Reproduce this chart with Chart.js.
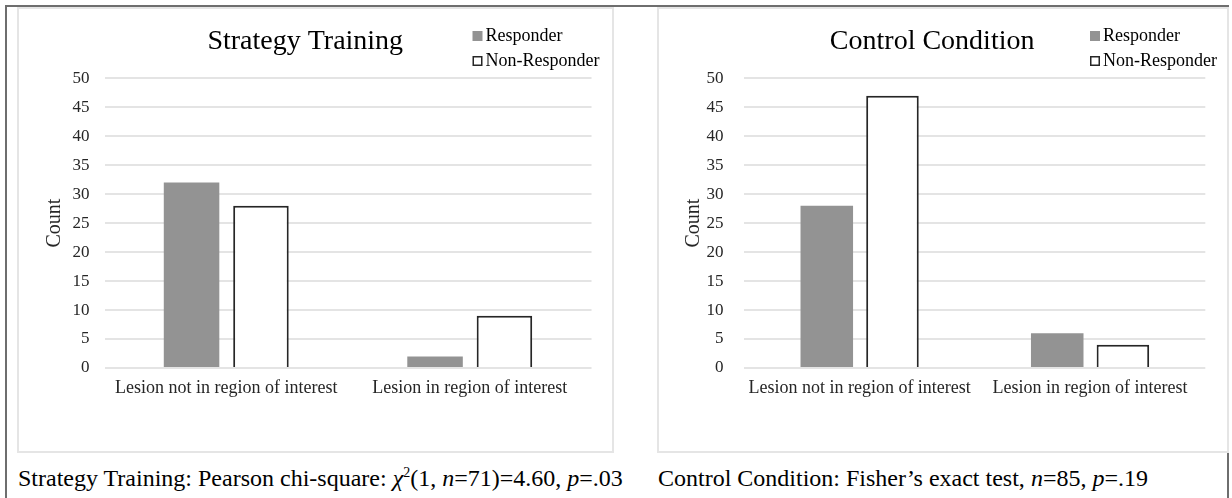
<!DOCTYPE html>
<html>
<head>
<meta charset="utf-8">
<script src="https://cdn.jsdelivr.net/npm/chart.js@4"></script>
<style>
  body { margin: 0; background: #fff; width: 1232px; height: 498px; overflow: hidden; position: relative; font-family: "Liberation Serif", "Times New Roman", serif; }
  .frame { position: absolute; left: 5px; top: 5px; width: 1224px; height: 520px; box-sizing: border-box; border: 2px solid #6e6e6e; border-bottom: none; }
  .panel { position: absolute; box-sizing: border-box; border: 2px solid #e5e5e5; }
  .box { position: absolute; }
  .caption { position: absolute; top: 466px; font-size: 24px; line-height: 1; color: #000; white-space: nowrap; }
</style>
</head>
<body>
<div class="frame"></div>
<div class="panel" style="left:17px; top:7px; width:597px; height:446px;"></div>
<div class="panel" style="left:657px; top:7px; width:572px; height:446px;"></div>
<div class="box" style="left:19px; top:9px; width:593px; height:442px;"><canvas id="strategyChart"></canvas></div>
<div class="box" style="left:659px; top:9px; width:566px; height:442px;"><canvas id="controlChart"></canvas></div>
<div class="caption" style="left:18px;">Strategy Training: Pearson chi-square: <i>χ</i><sup style="font-size:14px; vertical-align:9px; line-height:0;">2</sup>(1, <i>n</i>=71)=4.60, <i>p</i>=.03</div>
<div class="caption" style="left:658px;">Control Condition: Fisher’s exact test, <i>n</i>=85, <i>p</i>=.19</div>
<script>
'use strict';
// data
let categories = ['Lesion not in region of interest', 'Lesion in region of interest'];
let seriesNames = ['Responder', 'Non-Responder'];
let strategyResponder = [32, 2];
let strategyNonResponder = [28, 9];
let controlResponder = [28, 6];
let controlNonResponder = [47, 4];
let yMin = 0;
let yMax = 50;
let yStep = 5;

Chart.defaults.font.family = '"Liberation Serif", "Times New Roman", serif';
Chart.defaults.color = '#262626';

// legend stacked in two rows next to the title
const sideLegend = {
  id: 'sideLegend',
  afterDraw(chart, args, opts) {
    let ctx = chart.ctx;
    ctx.save();
    ctx.font = '18px "Liberation Serif", serif';
    ctx.textBaseline = 'middle';
    ctx.textAlign = 'left';
    chart.data.datasets.forEach(function (ds, i) {
      let y = opts.y + i * opts.rowGap;
      ctx.fillStyle = ds.backgroundColor;
      ctx.fillRect(opts.x, y - 5, 10, 10);
      if (ds.borderWidth) {
        ctx.lineWidth = 1.5;
        ctx.strokeStyle = ds.borderColor;
        ctx.strokeRect(opts.x + 0.75, y - 4.25, 8.5, 8.5);
      }
      ctx.fillStyle = '#000';
      ctx.fillText(ds.label, opts.x + 13, y);
    });
    ctx.restore();
  }
};

function makeChart(id, title, responder, nonResponder, layout) {
  let ctx = document.getElementById(id).getContext('2d');
  return new Chart(ctx, {
    type: 'bar',
    data: {
      labels: categories,
      datasets: [{
        label: seriesNames[0],
        data: responder,
        backgroundColor: '#939393',
        borderWidth: 0,
        categoryPercentage: 0.57,
        barPercentage: 0.8
      }, {
        label: seriesNames[1],
        data: nonResponder,
        backgroundColor: '#ffffff',
        borderColor: '#262626',
        borderWidth: 2,
        categoryPercentage: 0.57,
        barPercentage: 0.8
      }]
    },
    options: {
      responsive: true,
      maintainAspectRatio: false,
      animation: false,
      layout: { padding: { left: 0, right: layout.right, top: 0, bottom: 43.4 } },
      plugins: {
        legend: { display: false },
        tooltip: { enabled: false },
        title: {
          display: true,
          text: title,
          color: '#000',
          font: { size: 28, weight: 'normal' },
          padding: { top: 15.7, bottom: 20 }
        },
        sideLegend: { x: layout.legendX, y: 27, rowGap: 25 }
      },
      scales: {
        x: {
          grid: { display: false, drawTicks: false },
          border: { display: false },
          ticks: { font: { size: 18 }, padding: 9, maxRotation: 0, autoSkip: false }
        },
        y: {
          min: yMin,
          max: yMax,
          ticks: { stepSize: yStep, font: { size: 17 }, padding: layout.tickPad },
          grid: { color: '#e4e4e4', lineWidth: 2, drawTicks: false },
          border: { display: false },
          title: {
            display: true,
            text: 'Count',
            font: { size: 20 },
            padding: { top: layout.countPad, bottom: 0 }
          },
          afterFit: function (scale) { scale.width = layout.axisW; }
        }
      }
    },
    plugins: [sideLegend]
  });
}

makeChart('strategyChart', 'Strategy Training', strategyResponder, strategyNonResponder,
  { right: 20.5, tickPad: 15, countPad: 24, axisW: 85.5, legendX: 453.5 });
makeChart('controlChart', 'Control Condition', controlResponder, controlNonResponder,
  { right: 19.7, tickPad: 21, countPad: 23, axisW: 85.4, legendX: 431 });
</script>
</body>
</html>
